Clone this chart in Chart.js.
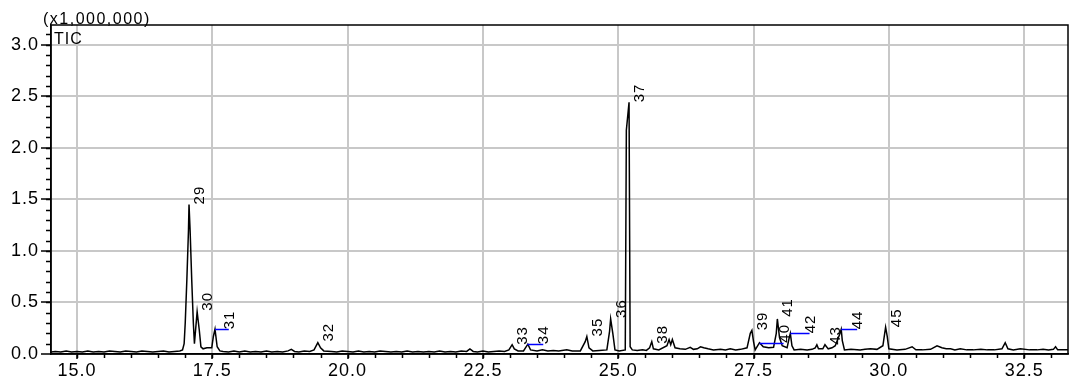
<!DOCTYPE html>
<html>
<head>
<meta charset="utf-8">
<script src="https://cdn.jsdelivr.net/npm/chart.js@4.4.1/dist/chart.umd.min.js"></script>
<style>
  html, body { margin: 0; padding: 0; background: #fff; }
  #wrap { width: 1071px; height: 387px; }
</style>
</head>
<body>
<div id="wrap"><canvas id="tic" width="1071" height="387"></canvas></div>
<script>
// retention time (min) and TIC intensity (x1,000,000)
const retentionTime = [
  14.52, 14.6, 14.7, 14.8, 14.9, 15.0, 15.1, 15.2, 15.3, 15.4, 15.5, 15.6, 15.7, 15.8, 15.9,
  16.0, 16.1, 16.2, 16.3, 16.4, 16.5, 16.6, 16.7, 16.8, 16.9, 16.95, 16.98, 17.0, 17.03, 17.06,
  17.07, 17.09, 17.12, 17.15, 17.17, 17.22, 17.26, 17.29, 17.33, 17.40, 17.49, 17.52, 17.55, 17.59, 17.64,
  17.7, 17.8, 17.9, 18.0, 18.1, 18.2, 18.3, 18.4, 18.5, 18.6, 18.7, 18.8, 18.9, 18.96, 19.02,
  19.1, 19.2, 19.3, 19.38, 19.45, 19.5, 19.56, 19.7, 19.8, 19.9, 20.0, 20.1, 20.2, 20.3, 20.4,
  20.5, 20.6, 20.7, 20.8, 20.9, 21.0, 21.1, 21.2, 21.3, 21.4, 21.5, 21.6, 21.7, 21.8, 21.9,
  22.0, 22.1, 22.2, 22.26, 22.32, 22.4, 22.5, 22.6, 22.7, 22.8, 22.9, 22.98, 23.04, 23.08, 23.15,
  23.25, 23.33, 23.38, 23.5, 23.6, 23.7, 23.8, 23.9, 24.05, 24.15, 24.3, 24.39, 24.42, 24.46, 24.53,
  24.65, 24.79, 24.84, 24.86, 24.90, 24.94, 25.02, 25.13, 25.15, 25.20, 25.22, 25.26, 25.35, 25.45, 25.52,
  25.58, 25.62, 25.65, 25.75, 25.9, 25.94, 25.97, 26.0, 26.05, 26.14, 26.24, 26.33, 26.39, 26.46, 26.52,
  26.58, 26.66, 26.76, 26.89, 26.98, 27.07, 27.17, 27.26, 27.38, 27.44, 27.47, 27.50, 27.53, 27.61, 27.68,
  27.78, 27.87, 27.92, 27.94, 27.98, 28.03, 28.12, 28.16, 28.18, 28.21, 28.25, 28.37, 28.49, 28.58, 28.64,
  28.67, 28.70, 28.78, 28.82, 28.88, 28.95, 29.01, 29.09, 29.12, 29.14, 29.18, 29.3, 29.47, 29.56, 29.66,
  29.78, 29.89, 29.94, 29.97, 30.0, 30.15, 30.3, 30.43, 30.5, 30.62, 30.77, 30.89, 30.98, 31.06, 31.14,
  31.22, 31.32, 31.44, 31.56, 31.7, 31.82, 31.95, 32.09, 32.15, 32.2, 32.3, 32.43, 32.6, 32.74, 32.85,
  32.95, 33.04, 33.08, 33.12, 33.2, 33.31
];
const ticValues = [
  0.02, 0.025, 0.02, 0.03, 0.02, 0.025, 0.02, 0.03, 0.02, 0.025, 0.02, 0.03, 0.025, 0.02, 0.03,
  0.025, 0.02, 0.03, 0.025, 0.02, 0.025, 0.03, 0.02, 0.025, 0.03, 0.04, 0.10, 0.30, 0.72, 1.20,
  1.45, 1.20, 0.72, 0.30, 0.10, 0.41, 0.23, 0.07, 0.05, 0.06, 0.06, 0.17, 0.24, 0.07, 0.03,
  0.025, 0.02, 0.03, 0.02, 0.03, 0.02, 0.025, 0.02, 0.03, 0.02, 0.025, 0.02, 0.03, 0.045, 0.025,
  0.02, 0.03, 0.025, 0.04, 0.11, 0.06, 0.03, 0.025, 0.02, 0.03, 0.025, 0.02, 0.03, 0.02, 0.025,
  0.02, 0.03, 0.025, 0.02, 0.025, 0.02, 0.03, 0.02, 0.025, 0.02, 0.025, 0.02, 0.03, 0.02, 0.025,
  0.02, 0.03, 0.025, 0.05, 0.025, 0.02, 0.03, 0.02, 0.025, 0.03, 0.025, 0.04, 0.09, 0.05, 0.03,
  0.03, 0.095, 0.04, 0.03, 0.04, 0.03, 0.035, 0.03, 0.04, 0.03, 0.03, 0.12, 0.17, 0.06, 0.03,
  0.035, 0.04, 0.22, 0.34, 0.20, 0.04, 0.03, 0.04, 2.17, 2.44, 0.07, 0.04, 0.035, 0.04, 0.035,
  0.06, 0.12, 0.05, 0.04, 0.08, 0.14, 0.09, 0.14, 0.06, 0.05, 0.045, 0.065, 0.045, 0.05, 0.07,
  0.06, 0.05, 0.04, 0.045, 0.04, 0.05, 0.04, 0.045, 0.06, 0.20, 0.23, 0.12, 0.04, 0.11, 0.07,
  0.06, 0.065, 0.20, 0.34, 0.16, 0.08, 0.06, 0.16, 0.20, 0.08, 0.04, 0.045, 0.04, 0.045, 0.06,
  0.09, 0.05, 0.05, 0.09, 0.05, 0.06, 0.08, 0.19, 0.24, 0.13, 0.04, 0.045, 0.04, 0.045, 0.05,
  0.045, 0.08, 0.26, 0.17, 0.05, 0.04, 0.045, 0.07, 0.04, 0.04, 0.045, 0.08, 0.06, 0.05, 0.05,
  0.04, 0.05, 0.04, 0.04, 0.045, 0.04, 0.04, 0.05, 0.11, 0.05, 0.04, 0.05, 0.04, 0.04, 0.045,
  0.04, 0.045, 0.07, 0.04, 0.04, 0.04
];

// peak labels
const peakIds = ['29', '30', '31', '32', '33', '34', '35', '36', '37', '38', '39', '40', '41', '42', '43', '44', '45'];
const peakTimes = [17.07, 17.22, 17.55, 19.45, 23.04, 23.32, 24.42, 24.86, 25.20, 25.62, 27.47, 27.61, 27.94, 28.18, 28.81, 29.12, 29.94];
const peakHeights = [1.45, 0.42, 0.24, 0.12, 0.09, 0.095, 0.17, 0.35, 2.44, 0.10, 0.23, 0.11, 0.36, 0.20, 0.09, 0.24, 0.26];
// where the label sits when it is pulled off the peak (blue leader), else null
const labelTimes = [null, null, 17.62, null, null, 23.43, null, null, null, null, null, 27.87, null, 28.35, null, 29.23, null];

const xMin = 14.52, xMax = 33.31, yMin = 0, yMax = 3.19;

const FONT = 'Liberation Sans, Arial, sans-serif';

const points = retentionTime.map((t, i) => ({ x: t, y: ticValues[i] }));

const decor = {
  id: 'decor',
  beforeDraw(chart) {
    chart.ctx.letterSpacing = '1px';
  },
  afterDraw(chart) {
    const ctx = chart.ctx;
    const area = chart.chartArea;
    const xs = chart.scales.x, ys = chart.scales.y;
    ctx.save();
    ctx.strokeStyle = '#000';
    ctx.lineWidth = 1.5;
    // minor ticks
    ctx.beginPath();
    for (let v = Math.ceil(xMin / 0.5) * 0.5; v <= xMax; v += 0.5) {
      const px = Math.round(xs.getPixelForValue(v)) + 0.5;
      ctx.moveTo(px, area.bottom);
      ctx.lineTo(px, area.bottom + 4);
    }
    for (let v = 0.1; v <= yMax; v += 0.1) {
      const py = Math.round(ys.getPixelForValue(v)) + 0.5;
      ctx.moveTo(area.left, py);
      ctx.lineTo(area.left - 5, py);
    }
    ctx.stroke();
    // frame
    ctx.strokeRect(area.left, area.top, area.right - area.left, area.bottom - area.top);

    // blue leaders
    ctx.strokeStyle = '#0000ff';
    ctx.lineWidth = 1.5;
    peakIds.forEach((id, i) => {
      if (labelTimes[i] == null) return;
      const py = Math.round(ys.getPixelForValue(peakHeights[i])) + 0.5;
      ctx.beginPath();
      ctx.moveTo(xs.getPixelForValue(peakTimes[i]), py);
      ctx.lineTo(xs.getPixelForValue(labelTimes[i]) + 10, py);
      ctx.stroke();
    });

    // peak numbers, rotated
    ctx.fillStyle = '#000';
    ctx.font = '15px ' + FONT;
    ctx.letterSpacing = '1px';
    ctx.textAlign = 'left';
    ctx.textBaseline = 'middle';
    peakIds.forEach((id, i) => {
      const t = labelTimes[i] != null ? labelTimes[i] : peakTimes[i];
      const px = xs.getPixelForValue(t) + 11;
      const py = ys.getPixelForValue(peakHeights[i]);
      ctx.save();
      ctx.translate(px, py);
      ctx.rotate(-Math.PI / 2);
      ctx.fillText(id, 0, 0);
      ctx.restore();
    });

    ctx.font = '16px ' + FONT;
    ctx.letterSpacing = '1px';
    ctx.textBaseline = 'alphabetic';
    ctx.fillText('TIC', area.left + 3, area.top + 19);
    ctx.letterSpacing = '1.5px';
    ctx.fillText('(x1,000,000)', 43, 24);
    ctx.restore();
  }
};

const ctx = document.getElementById('tic').getContext('2d');
const chart = new Chart(ctx, {
  type: 'line',
  data: {
    datasets: [{
      data: points,
      borderColor: '#000',
      borderWidth: 1.5,
      pointRadius: 0,
      tension: 0,
      fill: false
    }]
  },
  options: {
    responsive: false,
    animation: false,
    parsing: false,
    layout: { padding: { top: 25, right: 3, left: 0, bottom: 0 } },
    scales: {
      x: {
        type: 'linear',
        min: xMin,
        max: xMax,
        afterFit: s => { s.height = 33; },
        ticks: {
          stepSize: 2.5,
          includeBounds: false,
          maxRotation: 0,
          autoSkip: false,
          padding: 1,
          color: '#000',
          font: { family: FONT, size: 18 },
          callback: v => v.toFixed(1)
        },
        grid: { color: '#c8c8c8', lineWidth: 2, tickLength: 5, tickColor: '#000', tickWidth: 1.5 },
        border: { color: '#000', width: 1.5 }
      },
      y: {
        min: yMin,
        max: yMax,
        afterFit: s => { s.width = 51; },
        ticks: {
          stepSize: 0.5,
          includeBounds: false,
          padding: 2,
          color: '#000',
          font: { family: FONT, size: 18 },
          callback: v => v.toFixed(1)
        },
        grid: { color: '#c8c8c8', lineWidth: 2, tickLength: 10, tickColor: '#000', tickWidth: 1.5 },
        border: { color: '#000', width: 1.5 }
      }
    },
    plugins: {
      legend: { display: false },
      tooltip: { enabled: false }
    }
  },
  plugins: [decor]
});
</script>
</body>
</html>
